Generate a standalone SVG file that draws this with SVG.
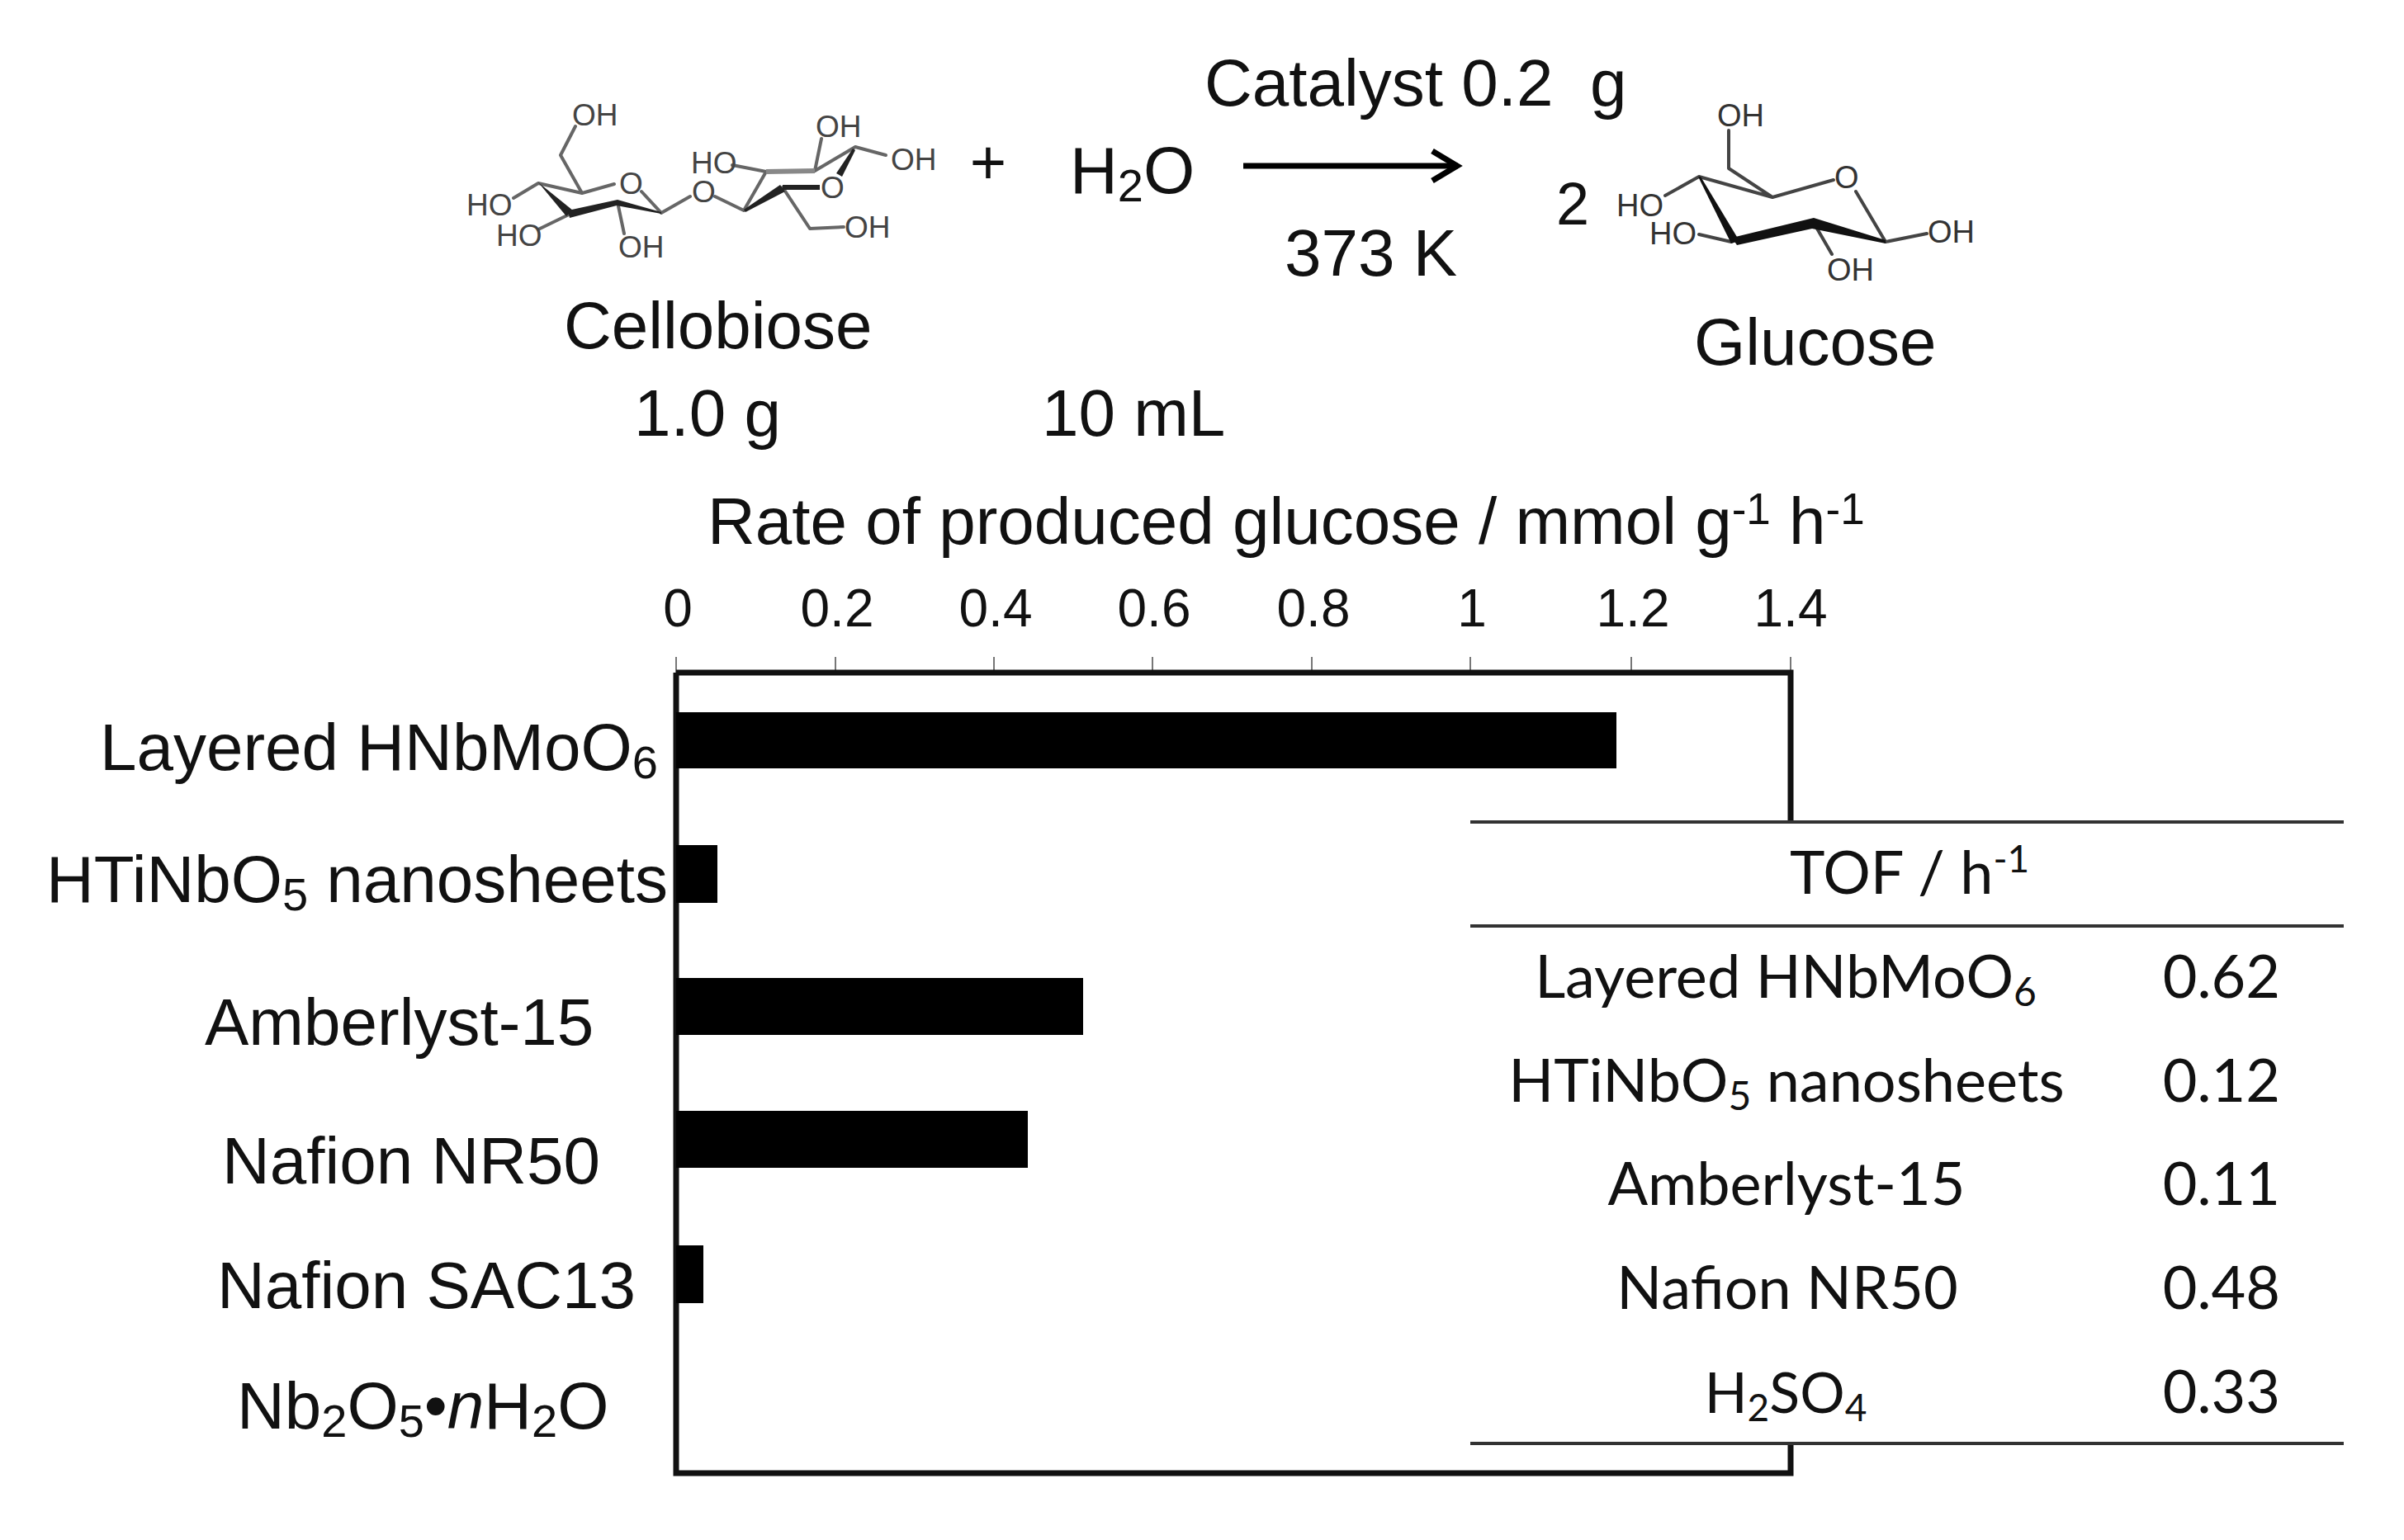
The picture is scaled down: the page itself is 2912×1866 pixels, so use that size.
<svg xmlns="http://www.w3.org/2000/svg" width="2912" height="1866" viewBox="0 0 2912 1866">
<defs>
<marker id="arrow" markerUnits="userSpaceOnUse" markerWidth="50" markerHeight="50" refX="40" refY="25" orient="auto"><path d="M9 7 L39 25 L9 43" fill="none" stroke="#000" stroke-width="7"/></marker>
</defs>
<style>
text{font-family:"Liberation Sans",Arial,sans-serif;fill:#111}
.m{font-size:80px}
.t{font-size:64px}
.c{font-family:Lato,"Liberation Sans",sans-serif;font-size:72px}
.a{font-size:37px;fill:#444}
.g{font-size:38px;fill:#333}
.bond{stroke:#666;stroke-width:4;fill:none;stroke-linecap:round;stroke-linejoin:round}
.gb{stroke:#444;stroke-width:4;fill:none;stroke-linecap:round;stroke-linejoin:round}
.gray{stroke:#888;stroke-width:6;fill:none}
.bar{fill:#000}
.tick{stroke:#777;stroke-width:2}
.ax{stroke:#111;stroke-width:7;fill:none}
.rule{stroke:#333;stroke-width:4}
</style>
<rect width="2912" height="1866" fill="#fff"/>

<g id="cellobiose">
<path class="bond" d="M697 153L679 188L705 234M652 222L705 234L744 223M652 222L622 240M689 260L652 278M748 245L756 283M777 232L801 258M801 258L836 238M866 238L901 255M901 255L928 208M928 208L887 200M987 207L995 168M987 207L1036 178L1073 188M948 227L981 277L1022 275"/>
<path class="gray" d="M928 208L987 207"/>
<polygon points="652,221 694,255 686,262" fill="#222"/>
<polygon points="688,255 748,242 801,257 801,259 747,249 690,264" fill="#222"/>
<polygon points="1033,180 1036,182 1020,214 1013,210" fill="#222"/>
<polygon points="901,254 945,224 951,232 903,257" fill="#222"/>
<path d="M948 227L993 227" stroke="#222" stroke-width="6" fill="none"/>
<text class="a" x="693" y="152">OH</text>
<text class="a" x="565" y="261">HO</text>
<text class="a" x="601" y="298">HO</text>
<text class="a" x="749" y="312">OH</text>
<text class="a" x="750" y="235">O</text>
<text class="a" x="838" y="245">O</text>
<text class="a" x="837" y="210">HO</text>
<text class="a" x="988" y="166">OH</text>
<text class="a" x="1079" y="206">OH</text>
<text class="a" x="994" y="240">O</text>
<text class="a" x="1023" y="288">OH</text>
<text class="m" x="683" y="422">Cellobiose</text>
<text class="m" x="768" y="528">1.0 g</text>
</g>

<g id="plus"><text x="1197" y="223" text-anchor="middle" font-size="76">+</text></g>

<g id="water">
<text class="m" x="1296" y="234">H<tspan font-size="56" dy="10">2</tspan><tspan dy="-10">O</tspan></text>
<text class="m" x="1262" y="528">10 mL</text>
</g>

<g id="conditions">
<text class="m" x="1459" y="128" xml:space="preserve">Catalyst 0.2  g</text>
<text class="m" x="1556" y="334">373 K</text>
</g>

<g id="connectors">
<line x1="1506" y1="201" x2="1766" y2="201" stroke="#000" stroke-width="7" marker-end="url(#arrow)"/>
</g>

<g id="glucose">
<text x="1885" y="272" font-size="72">2</text>
<path class="gb" d="M2094 158L2094 204L2147 239M2058 214L2147 239L2221 218M2058 214L2017 237M2058 284L2097 293M2197 270L2219 308M2248 232L2284 293L2334 283"/>
<polygon points="2057,214 2060,214 2107,292 2097,295" fill="#111"/>
<polygon points="2098,288 2197,264 2284,291 2284,295 2195,277 2104,297" fill="#111"/>
<text class="g" x="2080" y="153">OH</text>
<text class="g" x="2222" y="228">O</text>
<text class="g" x="1958" y="262">HO</text>
<text class="g" x="1998" y="296">HO</text>
<text class="g" x="2213" y="340">OH</text>
<text class="g" x="2335" y="294">OH</text>
<text class="m" x="2052" y="442">Glucose</text>
</g>

<g id="axis-title">
<text class="m" x="857" y="659">Rate of produced glucose / mmol g<tspan font-size="53" dy="-24">-1</tspan><tspan dy="24"> h</tspan><tspan font-size="53" dy="-24">-1</tspan></text>
</g>

<g id="axis">
<path class="tick" d="M819 796V815M1012 796V815M1204 796V815M1396 796V815M1589 796V815M1781 796V815M1976 796V815M2169 796V815"/>
<path class="ax" d="M819 815H2169V997M819 815V1785H2169V1749"/>
<g text-anchor="middle">
<text class="t" x="821" y="759">0</text>
<text class="t" x="1014" y="759">0.2</text>
<text class="t" x="1206" y="759">0.4</text>
<text class="t" x="1398" y="759">0.6</text>
<text class="t" x="1591" y="759">0.8</text>
<text class="t" x="1783" y="759">1</text>
<text class="t" x="1978" y="759">1.2</text>
<text class="t" x="2169" y="759">1.4</text>
</g>
</g>

<g id="bars">
<rect class="bar" x="819" y="863" width="1139" height="68"/>
<rect class="bar" x="819" y="1024" width="50" height="70"/>
<rect class="bar" x="819" y="1185" width="493" height="69"/>
<rect class="bar" x="819" y="1346" width="426" height="69"/>
<rect class="bar" x="819" y="1509" width="33" height="70"/>
</g>

<g id="categories">
<text class="m" x="121" y="933">Layered HNbMoO<tspan font-size="56" dy="10">6</tspan></text>
<text class="m" x="56" y="1093">HTiNbO<tspan font-size="56" dy="10">5</tspan><tspan dy="-10"> nanosheets</tspan></text>
<text class="m" x="248" y="1266">Amberlyst-15</text>
<text class="m" x="269" y="1434">Nafion NR50</text>
<text class="m" x="263" y="1585">Nafion SAC13</text>
<text class="m" x="287" y="1731">Nb<tspan font-size="56" dy="10">2</tspan><tspan dy="-10">O</tspan><tspan font-size="56" dy="10">5</tspan><tspan dy="-10">•</tspan><tspan font-style="italic">n</tspan>H<tspan font-size="56" dy="10">2</tspan><tspan dy="-10">O</tspan></text>
</g>

<g id="tof-table">
<rect x="1781" y="998" width="1058" height="750" fill="#fff"/>
<path class="rule" d="M1781 996H2839M1781 1122H2839M1781 1749H2839"/>
<text class="c" x="2168" y="1083">TOF / h<tspan font-size="46" dy="-26">-1</tspan></text>
<g text-anchor="middle">
<text class="c" x="2163" y="1209">Layered HNbMoO<tspan font-size="48" dy="10">6</tspan></text>
<text class="c" x="2164" y="1335">HTiNbO<tspan font-size="48" dy="10">5</tspan><tspan dy="-10"> nanosheets</tspan></text>
<text class="c" x="2164" y="1460">Amberlyst-15</text>
<text class="c" x="2165" y="1586">Nafion NR50</text>
<text class="c" x="2163" y="1712" font-size="68" style="font-size:68px">H<tspan font-size="46" dy="10">2</tspan><tspan dy="-10">SO</tspan><tspan font-size="46" dy="10">4</tspan></text>
</g>
<g text-anchor="middle">
<text class="c" x="2691" y="1209">0.62</text>
<text class="c" x="2691" y="1335">0.12</text>
<text class="c" x="2691" y="1460">0.11</text>
<text class="c" x="2691" y="1586">0.48</text>
<text class="c" x="2691" y="1712">0.33</text>
</g>
</g>
</svg>
